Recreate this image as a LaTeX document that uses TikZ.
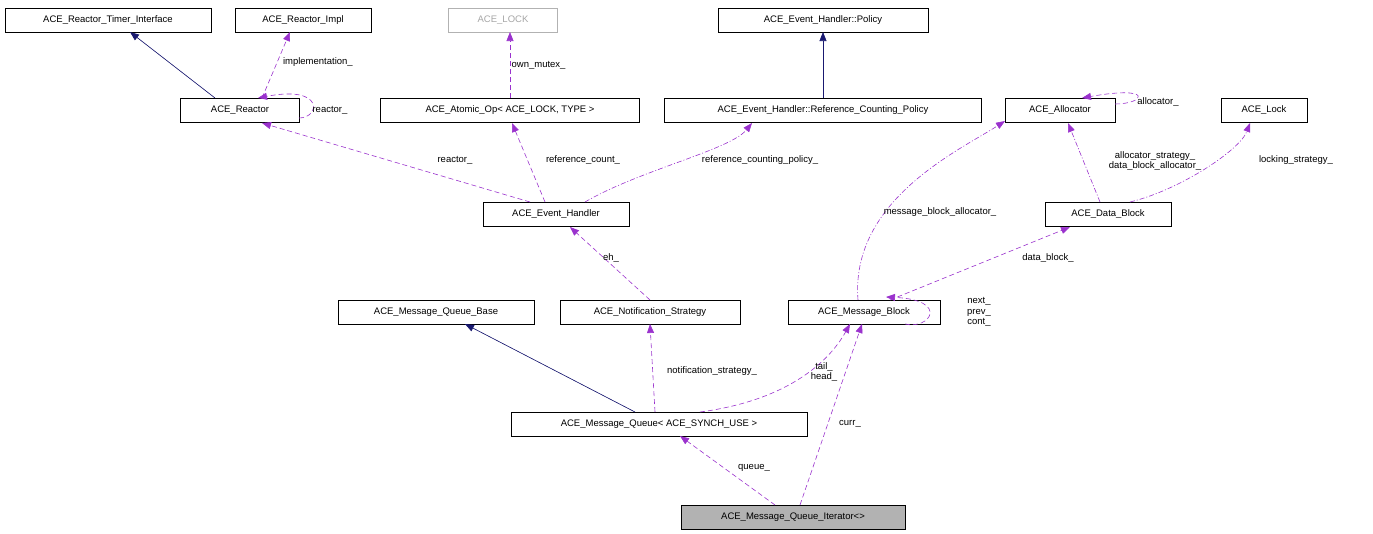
\documentclass[tikz,border=0pt]{standalone}
\usepackage{fontspec}
\setmainfont{Liberation Sans}
\usetikzlibrary{arrows.meta}
\definecolor{pur}{RGB}{154,50,205}
\definecolor{nav}{RGB}{25,25,112}
\begin{document}
\begin{tikzpicture}[x=1pt,y=-1pt,
  box/.style={draw,minimum height=24pt,inner xsep=7pt,font=\fontsize{9.5}{10}\selectfont,line width=0.6pt},
  lbl/.style={font=\fontsize{9.5}{10.5}\selectfont,align=center},
  tip/.style={-{Triangle[length=9pt,width=7pt]}},
  inh/.style={tip,draw=nav,fill=nav,line width=0.6pt},
  use/.style={tip,draw=pur,fill=none,dashed,dash pattern=on 5pt off 3pt,line width=0.6pt,-{Triangle[length=9pt,width=7pt,fill=pur]}},
  usedd/.style={use,dash pattern=on 5pt off 2pt on 1pt off 2pt}]
\path[use as bounding box] (0,0) rectangle (1373,533);
\node[box,minimum width=206pt] (rti) at (108,20) {ACE\_Reactor\_Timer\_Interface};
\node[box,minimum width=136pt] (rimpl) at (303,20) {ACE\_Reactor\_Impl};
\node[box,minimum width=109pt,draw=gray!60,text=gray!70] (lock) at (503,20) {ACE\_LOCK};
\node[box,minimum width=210pt] (pol) at (823,20) {ACE\_Event\_Handler::Policy};
\node[box,minimum width=119pt] (re) at (240,110) {ACE\_Reactor};
\node[box,minimum width=259pt] (ato) at (510,110) {ACE\_Atomic\_Op< ACE\_LOCK, TYPE >};
\node[box,minimum width=317pt] (rcp) at (823,110) {ACE\_Event\_Handler::Reference\_Counting\_Policy};
\node[box,minimum width=110pt] (all) at (1060,110) {ACE\_Allocator};
\node[box,minimum width=86pt] (lk) at (1264,110) {ACE\_Lock};
\node[box,minimum width=146pt] (eh) at (556,214) {ACE\_Event\_Handler};
\node[box,minimum width=126pt] (db) at (1108,214) {ACE\_Data\_Block};
\node[box,minimum width=196pt] (mqb) at (436,312) {ACE\_Message\_Queue\_Base};
\node[box,minimum width=180pt] (ns) at (650,312) {ACE\_Notification\_Strategy};
\node[box,minimum width=152pt] (mb) at (864,312) {ACE\_Message\_Block};
\node[box,minimum width=296pt] (mq) at (659,424) {ACE\_Message\_Queue< ACE\_SYNCH\_USE >};
\node[box,minimum width=224pt,fill=gray!60] (it) at (793,517) {ACE\_Message\_Queue\_Iterator<>};

\coordinate (a1) at (215,98); \coordinate (a2) at (130,32);
\draw[inh] (a1) -- (a2);
\coordinate (b1) at (262,98); \coordinate (b2) at (290,32);
\draw[use] (b1) -- (b2) node[lbl,pos=0.55,right=2pt] {implementation\_};
\coordinate (c1) at (299,104); \coordinate (c2) at (258,98);
\draw[use] (299,118) .. controls (320,118) and (325,85) .. (c2);
\node[lbl] (lre) at (330,110) {reactor\_};
\coordinate (d1) at (510,98); \coordinate (d2) at (510,32);
\draw[use] (d1) -- (d2) node[lbl,midway,right=-2pt] {own\_mutex\_};
\draw[inh] (823,98) -- (823,32);
\draw[use] (1115,104) .. controls (1145,104) and (1155,85) .. (1082,98);
\node[lbl] (lal) at (1158,102) {allocator\_};

\draw[use] (530,202) -- (262,123);
\node[lbl] (l1) at (455,160) {reactor\_};
\draw[use] (545,202) -- (512,123);
\node[lbl] (l2) at (583,160) {reference\_count\_};
\draw[usedd] (585,202) .. controls (640,170) and (730,150) .. (752,123);
\node[lbl] (l3) at (760,160) {reference\_counting\_policy\_};
\draw[usedd] (1100,202) -- (1068,123);
\node[lbl] (l4) at (1155,161) {allocator\_strategy\_\\data\_block\_allocator\_};
\draw[usedd] (1130,202) .. controls (1180,190) and (1240,150) .. (1250,123);
\node[lbl] (l5) at (1296,160) {locking\_strategy\_};
\draw[usedd] (858,300) .. controls (850,200) and (960,150) .. (1005,121);
\node[lbl] (l6) at (940,212) {message\_block\_allocator\_};
\draw[use] (890,300) -- (1070,227);
\node[lbl] (l7) at (1048,258) {data\_block\_};
\draw[use] (905,324) .. controls (930,330) and (950,300) .. (886,297);
\node[lbl] (l8) at (979,312) {next\_\\prev\_\\cont\_};
\draw[use] (650,300) -- (570,227);
\node[lbl] (l9) at (611,258) {eh\_};
\draw[inh] (635,412) -- (465,324);
\draw[use] (655,412) -- (650,324);
\node[lbl] (l10) at (712,371) {notification\_strategy\_};
\draw[use] (700,412) .. controls (790,400) and (830,360) .. (850,324);
\node[lbl] (l11) at (824,372) {tail\_\\head\_};
\draw[use] (775,505) -- (680,436);
\node[lbl] (l12) at (754,468) {queue\_};
\draw[use] (800,505) -- (862,324);
\node[lbl] (l13) at (850,424) {curr\_};
\end{tikzpicture}
\end{document}
